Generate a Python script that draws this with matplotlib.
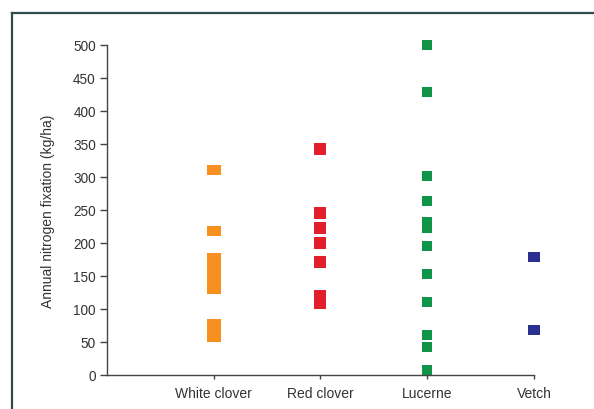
import matplotlib
matplotlib.use("Agg")
import matplotlib.pyplot as plt
from matplotlib.lines import Line2D

plt.rcParams['font.family'] = ['Liberation Sans', 'DejaVu Sans']

categories = ["White clover", "Red clover", "Lucerne", "Vetch"]

white_clover = [310, 218, 177, 168, 160, 151, 142, 135, 130, 77, 68, 58]
red_clover = [343, 246, 223, 200, 171, 119, 109]
lucerne = [500, 428, 302, 263, 232, 222, 195, 153, 110, 61, 42, 8]
vetch = [178, 68]

series = [white_clover, red_clover, lucerne, vetch]
colors = ["#f7901e", "#e2202b", "#109447", "#2b2f8f"]

# marker shapes: wide rectangles for some series, squares for others
wide_13 = [(-1.3, -1), (1.3, -1), (1.3, 1), (-1.3, 1)]
wide_12 = [(-1.2, -1), (1.2, -1), (1.2, 1), (-1.2, 1)]
markers = [wide_13, "s", "s", wide_12]
sizes = [9.4, 9.0, 7.2, 8.6]

yticks = [0, 50, 100, 150, 200, 250, 300, 350, 400, 450, 500]

fig = plt.figure(figsize=(5.94, 4.10), dpi=100)
ax = fig.add_axes([0.180, 0.083, 0.719, 0.805])

for i, (vals, c, mk, ms) in enumerate(zip(series, colors, markers, sizes)):
    ax.plot([i + 1] * len(vals), vals, linestyle="none", marker=mk,
            markersize=ms, color=c, markeredgewidth=0, clip_on=False)

ax.set_xlim(0, 4)
ax.set_ylim(0, 500)
ax.set_xticks(range(1, 5))
ax.set_xticklabels(categories)
ax.set_yticks(yticks)
ax.set_yticklabels([str(v) for v in yticks])

text_color = "#333333"
for side in ("top", "right"):
    ax.spines[side].set_visible(False)
for side in ("left", "bottom"):
    ax.spines[side].set_color("#444444")
    ax.spines[side].set_linewidth(1.0)

ax.tick_params(axis="y", direction="out", length=5, width=1, colors="#444444",
               labelcolor=text_color, labelsize=9.8, pad=3)
ax.tick_params(axis="x", direction="out", length=3, width=1, colors="#444444",
               labelcolor=text_color, labelsize=10, pad=5)

ax.set_ylabel("Annual nitrogen fixation (kg/ha)", fontsize=10,
              color=text_color, labelpad=13)

# frame lines along the top and left of the figure
frame_color = "#2f4d4d"
fig.add_artist(Line2D([0.021, 1.0], [0.967, 0.967], color=frame_color,
                      linewidth=1.6, transform=fig.transFigure))
fig.add_artist(Line2D([0.021, 0.021], [0.0, 0.967], color=frame_color,
                      linewidth=1.6, transform=fig.transFigure))

fig.savefig("out.png", dpi=100)
